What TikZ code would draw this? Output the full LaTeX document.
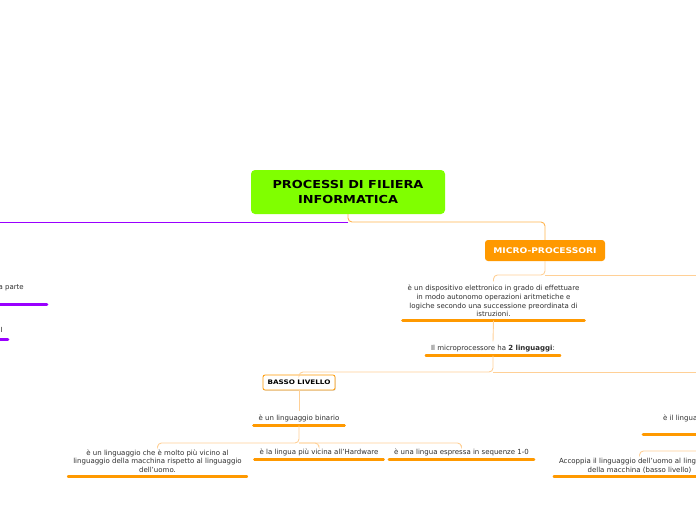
\documentclass[tikz,border=0pt]{standalone}
\usepackage{fontspec}
\setmainfont{DejaVu Sans}
\newfontfamily\wideb[FakeStretch=1.17]{DejaVu Sans}
\usetikzlibrary{shadows}
\definecolor{limeg}{RGB}{128,255,0}
\definecolor{mporange}{RGB}{255,153,0}
\definecolor{conn}{RGB}{255,208,150}
\definecolor{conn2}{RGB}{255,180,80}
\definecolor{purp}{RGB}{153,0,255}
\definecolor{txt}{RGB}{45,45,45}
\tikzset{
  uline/.style={draw=mporange, line width=2.6pt, line cap=round},
  puline/.style={draw=purp, line width=2.6pt, line cap=round},
  topic/.style={font=\fontsize{7}{8.7}\selectfont, text=txt, align=center,
    inner xsep=5pt, inner ysep=3.5pt,
    append after command={(\tikzlastnode.south west) edge[uline] (\tikzlastnode.south east)}},
  ptopic/.style={font=\fontsize{7}{8.7}\selectfont, text=txt, align=center,
    inner xsep=5pt, inner ysep=3.5pt,
    append after command={(\tikzlastnode.south west) edge[puline] (\tikzlastnode.south east)}},
  rootbox/.style={fill=limeg, rounded corners=4pt, minimum width=194pt, minimum height=44pt,
    align=center, text=black, font=\wideb\bfseries\fontsize{11}{15}\selectfont},
  mpbox/.style={fill=mporange, rounded corners=3pt, minimum width=120pt, minimum height=21pt,
    text=white, font=\wideb\bfseries\fontsize{7.8}{9}\selectfont},
  blbox/.style={draw=mporange, line width=0.8pt, fill=white, rounded corners=2pt,
    minimum width=72pt, minimum height=15pt, text=black,
    font=\wideb\bfseries\fontsize{6.2}{8}\selectfont,
    drop shadow={shadow xshift=0.8pt, shadow yshift=-0.8pt, opacity=0.25}},
  conline/.style={draw=conn, line width=0.9pt, rounded corners=4pt},
  conline2/.style={draw=conn2, line width=0.9pt, rounded corners=4pt},
  pline/.style={draw=purp, line width=0.9pt},
}
\begin{document}
\begin{tikzpicture}[x=1pt,y=-1pt]
\useasboundingbox (0,0) rectangle (696,520);
\clip (0,0) rectangle (696,520);

% nodes
\node[rootbox] (root) at (348,192) {PROCESSI DI FILIERA\\INFORMATICA};
\node[mpbox] (mp) at (545,250.5) {MICRO-PROCESSORI};
\node[topic] (disp) at (493.5,301) {è un dispositivo elettronico in grado di effettuare\\in modo autonomo operazioni aritmetiche e\\logiche secondo una successione preordinata di\\istruzioni.};
\node[topic] (mic) at (493,348.5) {Il microprocessore ha \textbf{2 linguaggi}:};
\node[blbox] (bl) at (299,382.5) {BASSO LIVELLO};
\node[topic] (bin) at (299,418.5) {è un linguaggio binario};
\node[topic] (vic) at (157.5,461) {è un linguaggio che è molto più vicino al\\linguaggio della macchina rispetto al linguaggio\\dell'uomo.};
\node[topic] (hw) at (319,452.5) {è la lingua più vicina all'Hardware};
\node[topic] (seq) at (461.5,452.5) {è una lingua espressa in sequenze 1-0};
\node[topic, anchor=west, inner xsep=20pt, minimum height=32pt] (ril) at (643,418) {è il linguaggio};
\node[topic] (acc) at (639.5,465.5) {Accoppia il linguaggio dell'uomo al linguaggio\\della macchina (basso livello)};
\node[ptopic, anchor=east, inner xsep=23pt, minimum height=32pt] (lp1) at (47,288) {a parte};
\node[ptopic, anchor=east, minimum height=18pt] (lp2) at (8,330) {I};

% junction coordinates
\coordinate (j0) at (348,222);
\coordinate (pl) at (-5,222);
\coordinate (j1) at (545,275);
\coordinate (r1) at (705,275);
\coordinate (j2) at (493,372);
\coordinate (r2) at (705,372);
\coordinate (j3) at (299,443);
\coordinate (r3) at (705,451);

% connectors
\draw[pline] (j0) -- (pl);
\draw[conline2] (root.south) -- (j0) -| (mp.north);
\draw[conline] (mp.south) -- (j1) -| (disp.north);
\draw[conline] (j1) -- (r1);
\draw[conline] (disp.south) -- (mic.north);
\draw[conline] (mic.south) -- (j2) -| (bl.north);
\draw[conline] (j2) -- (r2);
\draw[conline] (bl.south) -- (bin.north);
\draw[conline] (bin.south) -- (j3) -| (vic.north);
\draw[conline] (j3) -| (hw.north);
\draw[conline] (j3) -| (seq.north);
\draw[conline] (acc.north) |- (r3);
\end{tikzpicture}
\end{document}
